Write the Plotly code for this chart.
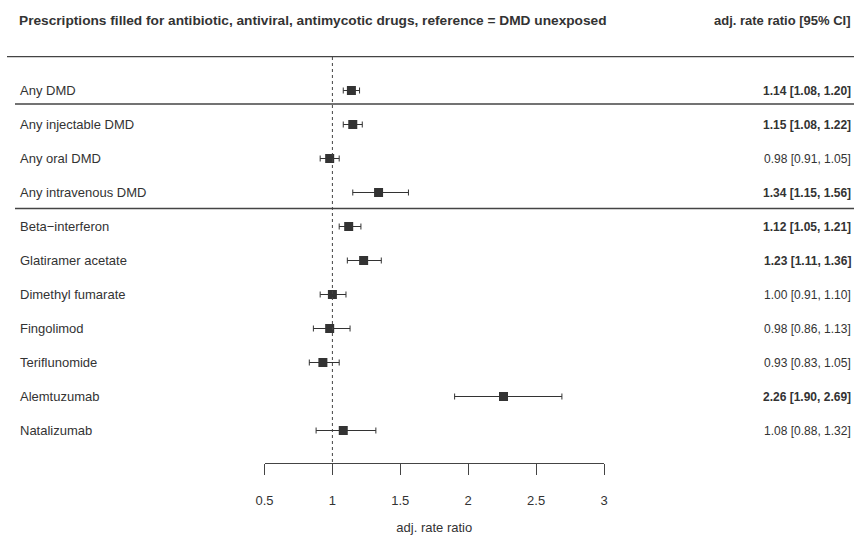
import plotly.graph_objects as go

labels = ["Any DMD", "Any injectable DMD", "Any oral DMD", "Any intravenous DMD",
          "Beta\u2212interferon", "Glatiramer acetate", "Dimethyl fumarate", "Fingolimod",
          "Teriflunomide", "Alemtuzumab", "Natalizumab"]
est = [1.14, 1.15, 0.98, 1.34, 1.12, 1.23, 1.00, 0.98, 0.93, 2.26, 1.08]
lo = [1.08, 1.08, 0.91, 1.15, 1.05, 1.11, 0.91, 0.86, 0.83, 1.90, 0.88]
hi = [1.20, 1.22, 1.05, 1.56, 1.21, 1.36, 1.10, 1.13, 1.05, 2.69, 1.32]
significant = [True, True, False, True, True, True, False, False, False, True, False]
tick_vals = [0.5, 1, 1.5, 2, 2.5, 3]
tick_text = ["0.5", "1", "1.5", "2", "2.5", "3"]

W, H = 854, 537
FONT = "Liberation Sans, Arial, sans-serif"
TXT = "#333333"

rows = list(range(len(labels)))
fig = go.Figure()
fig.add_trace(go.Scatter(
    x=est, y=rows, mode="markers",
    marker=dict(symbol="square", size=9, color="#333333"),
    error_x=dict(type="data", symmetric=False,
                 array=[h - e for h, e in zip(hi, est)],
                 arrayminus=[e - l for e, l in zip(est, lo)],
                 color="#333333", thickness=1, width=3),
    showlegend=False, hoverinfo="skip"))

# axis geometry
x0px, x1px = 264.5, 604.0
axis_bottom_px = 463
row0_px, row_step = 90.5, 34.0
y_top = (0 - row0_px) / row_step
y_bot = (axis_bottom_px - row0_px) / row_step

fig.update_layout(
    width=W, height=H, margin=dict(l=0, r=0, t=0, b=0, autoexpand=False),
    paper_bgcolor="white", plot_bgcolor="white",
    font=dict(family=FONT, size=13, color=TXT),
    xaxis=dict(domain=[x0px / W, x1px / W], range=[0.5, 3], showgrid=False, zeroline=False,
               showline=True, linecolor="#444444", linewidth=1,
               ticks="outside", ticklen=11, tickcolor="#444444", tickwidth=1,
               tickvals=tick_vals, ticktext=tick_text, ticklabelstandoff=14,
               tickfont=dict(size=13, color=TXT), automargin=False,
               title=dict(text="adj. rate ratio", font=dict(size=13, color=TXT), standoff=16)),
    yaxis=dict(domain=[(H - axis_bottom_px) / H, 1], range=[y_bot, y_top], automargin=False,
               showgrid=False, zeroline=False, showticklabels=False, showline=False),
)

# reference line at 1
fig.add_shape(type="line", xref="x", yref="y", x0=1, x1=1, y0=(57 - row0_px) / row_step, y1=y_bot,
              line=dict(color="#444444", width=1, dash="dot"))
# horizontal separators
for ypx, xs in [(56.7, 7), (104, 15), (208.5, 15)]:
    fig.add_shape(type="line", xref="paper", yref="y", x0=xs / W, x1=1,
                  y0=(ypx - row0_px) / row_step, y1=(ypx - row0_px) / row_step,
                  line=dict(color="#444444", width=1.3))

for i, (lab, e, l, h, s) in enumerate(zip(labels, est, lo, hi, significant)):
    fig.add_annotation(x=18 / W, xref="paper", y=i, yref="y", text=lab, showarrow=False,
                       xanchor="left", font=dict(size=13, color=TXT))
    val = f"{e:.2f} [{l:.2f}, {h:.2f}]"
    if s:
        val = f"<b>{val}</b>"
    fig.add_annotation(x=853 / W, xref="paper", y=i, yref="y", text=val, showarrow=False,
                       xanchor="right", font=dict(size=12, color=TXT))

fig.add_annotation(x=17 / W, xref="paper", y=(20 - row0_px) / row_step, yref="y",
                   text="<b>Prescriptions filled for antibiotic, antiviral, antimycotic drugs, reference = DMD unexposed</b>",
                   showarrow=False, xanchor="left", font=dict(size=13.7, color=TXT))
fig.add_annotation(x=853 / W, xref="paper", y=(20 - row0_px) / row_step, yref="y",
                   text="<b>adj. rate ratio [95% CI]</b>",
                   showarrow=False, xanchor="right", font=dict(size=13, color=TXT))

fig.write_html("out.html", config={"displayModeBar": False},
               post_script="document.body.style.margin='0';document.body.style.overflow='hidden';")
